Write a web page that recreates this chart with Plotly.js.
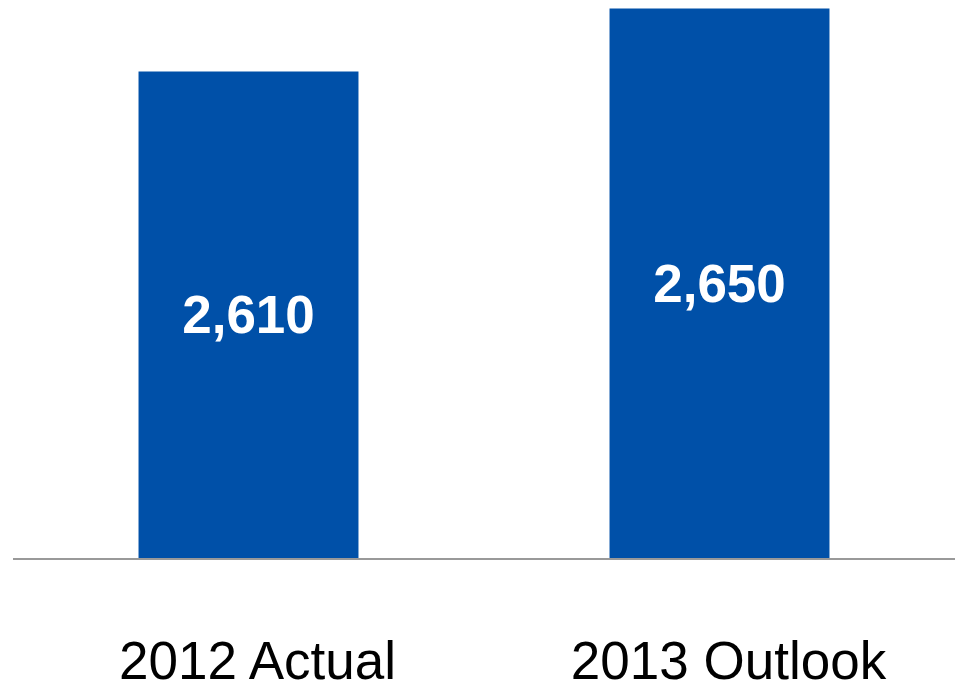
<!DOCTYPE html>
<html>
<head>
<meta charset="utf-8">
<script src="https://cdn.plot.ly/plotly-3.0.1.min.js"></script>
<style>html,body{margin:0;padding:0;background:#fff;}#chart{width:955px;height:685px;}</style>
</head>
<body>
<div id="chart"></div>
<script>
const categories = ["2012 Actual", "2013 Outlook"];
const values = [2610, 2650];
const yMin = 2301;
const yMax = 2655.4;

// Bars start at the bottom of the visible axis range so the inside labels
// are centred in the visible part of each bar; the top stays at the value.
const trace = {
  type: "bar",
  x: categories,
  base: categories.map(() => yMin),
  y: values.map(v => v - yMin),
  customdata: values,
  marker: { color: "#0050A8" },
  texttemplate: "%{customdata:,}",
  textposition: "inside",
  insidetextanchor: "middle",
  textfont: { family: "Liberation Sans, Arial, sans-serif", size: 53, color: "#ffffff", weight: "bold" },
  hoverinfo: "skip"
};

const layout = {
  width: 955,
  height: 685,
  margin: { l: 13, r: 0, t: 0, b: 127 },
  paper_bgcolor: "#ffffff",
  plot_bgcolor: "#ffffff",
  bargap: 0.533,
  showlegend: false,
  font: { family: "Liberation Sans, Arial, sans-serif", color: "#000000" },
  xaxis: {
    showline: true,
    linecolor: "#999999",
    linewidth: 1.5,
    ticks: "",
    showgrid: false,
    zeroline: false,
    tickfont: { size: 53, color: "#000000" },
    ticklabelshift: 9,
    ticklabelstandoff: 56
  },
  yaxis: {
    range: [yMin, yMax],
    visible: false,
    showgrid: false,
    zeroline: false
  }
};

Plotly.newPlot("chart", [trace], layout, { displayModeBar: false, staticPlot: true });
</script>
</body>
</html>
